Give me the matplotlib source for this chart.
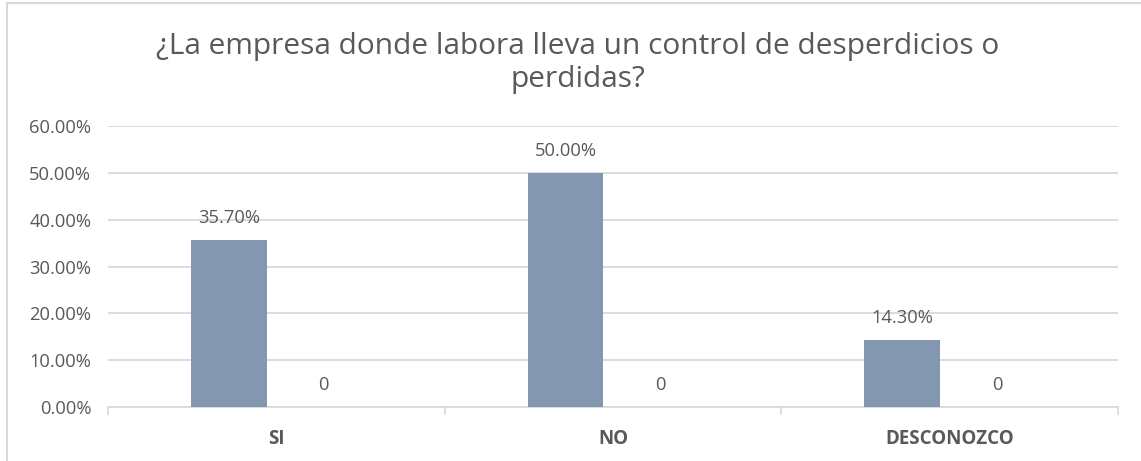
import matplotlib
matplotlib.use("Agg")
import matplotlib.pyplot as plt
from matplotlib.patches import Rectangle
from matplotlib.ticker import FuncFormatter, FixedLocator

# Survey answers
categories = ["SI", "NO", "DESCONOZCO"]
porcentaje = [35.70, 50.00, 14.30]   # share of respondents (%)
serie_2 = [0, 0, 0]                   # second series, all zero
y_ticks = [0, 10, 20, 30, 40, 50, 60]

title = "¿La empresa donde labora lleva un control de desperdicios o\nperdidas?"

plt.rcParams["font.family"] = ["Open Sans", "DejaVu Sans"]
TXT = "#595959"
BAR = "#8497B0"
GRID = "#D9D9D9"
FS = 13.2

W, H = 1141, 461
fig = plt.figure(figsize=(W / 100, H / 100), dpi=100)
fig.patch.set_facecolor("white")

# outer chart frame
fig.patches.append(Rectangle((7 / W, -0.05), 1.1, 1 - 3 / H + 0.05,
                             transform=fig.transFigure, fill=False,
                             edgecolor=GRID, linewidth=1.5))

ax = fig.add_axes([108 / W, 1 - 407 / H, (1118 - 108) / W, (407 - 126) / H])

x = list(range(len(categories)))
width = 0.2255
off = 0.141
b1 = ax.bar([i - off for i in x], porcentaje, width, color=BAR, zorder=3)
b2 = ax.bar([i + off for i in x], serie_2, width, color="#A5A5A5", zorder=3)

for rect, v in zip(b1, porcentaje):
    ax.annotate(f"{v:.2f}%", (rect.get_x() + rect.get_width() / 2, v),
                xytext=(0, 13), textcoords="offset pixels",
                ha="center", va="bottom", fontsize=FS, color=TXT)
for rect, v in zip(b2, serie_2):
    ax.annotate(f"{v:g}", (rect.get_x() + rect.get_width() / 2, v),
                xytext=(0, 13), textcoords="offset pixels",
                ha="center", va="bottom", fontsize=FS, color=TXT)

ax.set_xlim(-0.5, 2.5)
ax.set_ylim(0, 60)
ax.set_yticks(y_ticks)
ax.yaxis.set_major_formatter(FuncFormatter(lambda v, p: f"{v:.2f}%"))
ax.yaxis.grid(True, color=GRID, linewidth=1.3, zorder=0)
ax.tick_params(axis="y", length=0, pad=12, labelsize=FS, labelcolor=TXT)

ax.set_xticks(x)
ax.set_xticklabels(categories, fontweight="bold", fontsize=13.5, color=TXT)
ax.xaxis.set_minor_locator(FixedLocator([-0.5, 0.5, 1.5, 2.5]))
ax.tick_params(axis="x", which="major", length=0, pad=16)
ax.tick_params(axis="x", which="minor", length=6, width=1.2, color=GRID)

for s in ["top", "right", "left"]:
    ax.spines[s].set_visible(False)
ax.spines["bottom"].set_color(GRID)
ax.spines["bottom"].set_linewidth(1.3)

fig.text(578 / W, 1 - 63 / H, title, ha="center", va="center",
         fontsize=21.5, color=TXT, linespacing=1.22)

fig.savefig("out.png", dpi=100)
